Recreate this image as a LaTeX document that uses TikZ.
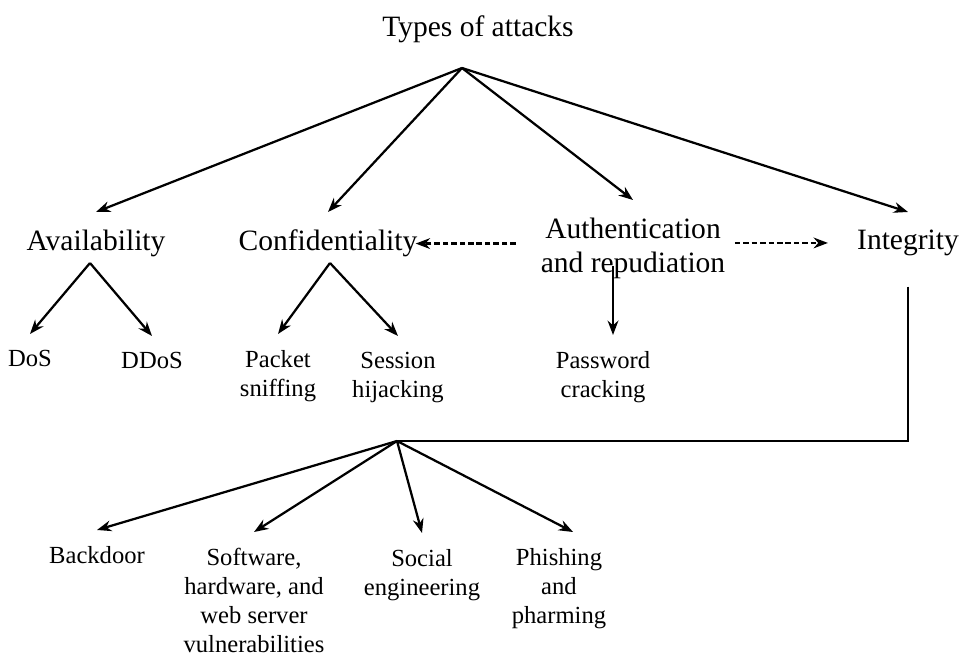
\documentclass[tikz,border=0pt]{standalone}
\usepackage{fontspec}
\setmainfont{Liberation Serif}
\usetikzlibrary{arrows.meta}

\begin{document}
\begin{tikzpicture}[>=Stealth,line width=1.6pt,
  topic/.style={font=\fontsize{21}{24}\selectfont,align=center,anchor=north,inner xsep=1pt,inner ysep=12pt},
  leaf/.style={font=\fontsize{17.5}{20.5}\selectfont,align=center,anchor=north,inner xsep=1pt,inner ysep=11pt},
  link/.style={dash pattern=on 4pt off 2pt}]
\useasboundingbox (0,0) rectangle (24.2,16.425);
\node[font=\fontsize{21}{24}\selectfont] (title) at (11.95,15.7) {Types of attacks};
\coordinate (root) at (11.55,14.725);
\node[topic] (avail) at (2.4,11.125) {Availability};
\node[topic] (conf) at (8.2,11.125) {Confidentiality};
\node[topic] (auth) at (15.825,11.425) {Authentication\\and repudiation};
\node[topic] (integ) at (22.7,11.125) {Integrity};
\draw[->] (root)--(avail.north);
\draw[->] (root)--(conf.north);
\draw[->] (root)--(auth.north);
\draw[->] (root)--(integ.north);
\draw[->,link,shorten <=16pt,shorten >=-3pt] (auth.west |- conf.east)--(conf.east);
\draw[->,link,shorten <=5pt,shorten >=19pt] (auth.east |- integ.west)--(integ.west);
\coordinate (afork) at (2.25,9.85);
\node[leaf] (dos) at (0.75,8.075) {DoS};
\node[leaf] (ddos) at (3.8,8.025) {DDoS};
\draw[->] (afork)--(dos.north);
\draw[->] (afork)--(ddos.north);
\coordinate (cfork) at (8.25,9.85);
\node[leaf] (packet) at (6.95,8.075) {Packet\\sniffing};
\node[leaf] (session) at (9.95,8.025) {Session\\hijacking};
\draw[->] (cfork)--(packet.north);
\draw[->] (cfork)--(session.north);
\coordinate (pfork) at (15.325,9.775);
\node[leaf] (pwd) at (15.075,8.05) {Password\\cracking};
\draw[->] (pfork)--(pfork |- pwd.north);
\coordinate (bfork) at (9.925,5.4);
\draw[shorten <=9pt] (integ.south)--(integ.south |- bfork)--(bfork);
\node[leaf] (backdoor) at (2.425,3.175) {Backdoor};
\node[leaf] (soft) at (6.35,3.125) {Software,\\hardware, and\\web server\\vulnerabilities};
\node[leaf] (social) at (10.55,3.1) {Social\\engineering};
\node[leaf] (phish) at (13.975,3.125) {Phishing\\and\\pharming};
\draw[->] (bfork)--(backdoor.north);
\draw[->] (bfork)--(soft.north);
\draw[->] (bfork)--(social.north);
\draw[->] (bfork)--([xshift=10pt]phish.north);

\end{tikzpicture}
\end{document}
